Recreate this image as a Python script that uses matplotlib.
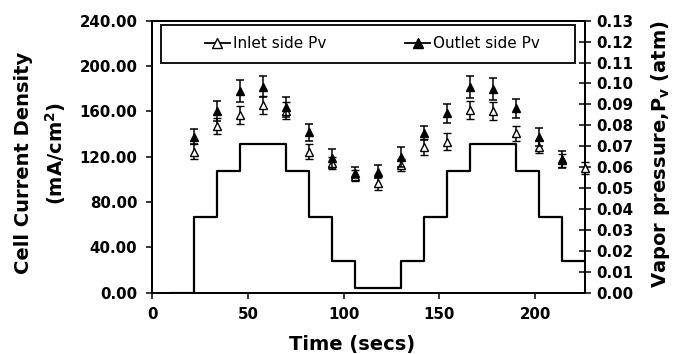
import numpy as np
import matplotlib
matplotlib.use('Agg')
import matplotlib.pyplot as plt
from matplotlib.lines import Line2D
from matplotlib.patches import Rectangle
from matplotlib.ticker import FormatStrFormatter

plt.rcParams['font.family'] = 'DejaVu Sans'
plt.rcParams['mathtext.default'] = 'bf'

# step profile of cell current density (mA/cm2), value held from each time
step_t = [10, 22, 34, 46, 58, 70, 82, 94, 106, 118, 130, 142, 154, 166, 178, 190, 202, 214, 226]
step_i = [0, 67, 107, 131, 131, 107, 67, 28, 4, 4, 28, 67, 107, 131, 131, 107, 67, 28, 28]

# vapor pressure measurements (atm)
t_pts = [22, 34, 46, 58, 70, 82, 94, 106, 118, 130, 142, 154, 166, 178, 190, 202, 214, 226]
inlet = [0.0674, 0.0797, 0.0849, 0.0897, 0.0870, 0.0674, 0.0619, 0.0560, 0.0523, 0.0610,
         0.0698, 0.0722, 0.0873, 0.0869, 0.0762, 0.0698, 0.0632, 0.0595]
inlet_err = [0.0036, 0.0040, 0.0045, 0.0044, 0.0040, 0.0037, 0.0030, 0.0025, 0.0030, 0.0030,
             0.0038, 0.0040, 0.0042, 0.0042, 0.0037, 0.0030, 0.0030, 0.0030]
t_out = t_pts[:-1]
outlet = [0.0746, 0.0869, 0.0964, 0.0985, 0.0886, 0.0767, 0.0642, 0.0574, 0.0578, 0.0650,
          0.0762, 0.0858, 0.0982, 0.0972, 0.0881, 0.0743, 0.0638]
outlet_err = [0.0037, 0.0048, 0.0053, 0.0050, 0.0048, 0.0040, 0.0045, 0.0025, 0.0030, 0.0048,
              0.0033, 0.0046, 0.0052, 0.0052, 0.0045, 0.0042, 0.0040]

fig = plt.figure(figsize=(6.82, 3.54), dpi=100)
ax = fig.add_axes([0.2229, 0.1732, 0.6349, 0.7683])
ax2 = ax.twinx()

ax.step(step_t, step_i, where='post', color='black', lw=1.6, zorder=2)
ax.set_xlim(0, 226)
ax.set_ylim(0, 240)
ax.set_xticks([0, 50, 100, 150, 200])
ax.set_yticks(np.arange(0, 241, 40))
ax.yaxis.set_major_formatter(FormatStrFormatter('%.2f'))

ax2.errorbar(t_pts, inlet, yerr=inlet_err, fmt='^', mfc='white', mec='black', ms=6.3,
             mew=1.0, ecolor='black', elinewidth=1.1, capsize=2.6, capthick=1.1,
             clip_on=False, zorder=3)
ax2.errorbar(t_out, outlet, yerr=outlet_err, fmt='^', mfc='black', mec='black', ms=6.3,
             ecolor='black', elinewidth=1.1, capsize=2.6, capthick=1.1,
             clip_on=False, zorder=4)
ax2.set_ylim(0, 0.13)
ax2.set_yticks(np.arange(0, 0.131, 0.01))
ax2.yaxis.set_major_formatter(FormatStrFormatter('%.2f'))

for a in (ax, ax2):
    for s in a.spines.values():
        s.set_linewidth(1.3)
ax.tick_params(axis='both', direction='out', length=4.5, width=1.1, labelsize=10.8)
ax.tick_params(axis='y', pad=6)
ax.tick_params(axis='x', pad=6)
ax2.tick_params(axis='y', direction='inout', length=8, width=1.1, labelsize=10.8, pad=4)
for lab in ax.get_xticklabels() + ax.get_yticklabels() + ax2.get_yticklabels():
    lab.set_fontweight('bold')

# legend with box
ax.add_patch(Rectangle((0.021, 0.846), 0.956, 0.138, transform=ax.transAxes,
                       fill=False, ec='black', lw=1.3, zorder=5))
h1 = Line2D([], [], color='black', lw=1.3, marker='^', mfc='white', mec='black', ms=7)
h2 = Line2D([], [], color='black', lw=1.3, marker='^', mfc='black', mec='black', ms=7)
ax2.legend([h1, h2], ['Inlet side Pv', 'Outlet side Pv'], ncol=2, frameon=False,
           loc='center', bbox_to_anchor=(0.509, 0.915), fontsize=11,
           handlelength=1.6, handletextpad=0.2, columnspacing=5.2)

fig.text(0.516, 0.012, 'Time (secs)', ha='center', va='baseline', fontsize=14, fontweight='bold')
fig.text(0.035, 0.539, 'Cell Current Density', rotation=90, ha='center', va='center',
         fontsize=14, fontweight='bold')
fig.text(0.081, 0.565, '(mA/cm$^2$)', rotation=90, ha='center', va='center',
         fontsize=14, fontweight='bold')
fig.text(0.968, 0.566, 'Vapor pressure,P$_v$ (atm)', rotation=90, ha='center', va='center',
         fontsize=14, fontweight='bold')

fig.savefig('out.png', dpi=100)
